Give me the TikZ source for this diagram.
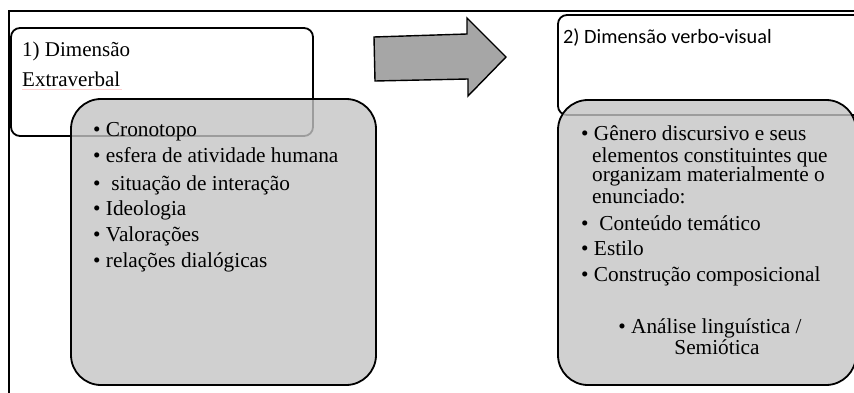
\documentclass[tikz,border=0pt]{standalone}
\usepackage{fontspec}
\setmainfont{Liberation Serif}
\newfontfamily\calib{Carlito}
\definecolor{boxgray}{RGB}{196,196,196}
\definecolor{arrowgray}{RGB}{166,166,166}
\tikzset{
  frameline/.style={line width=2pt, black},
  whitebox/.style={draw=black, line width=1.8pt, fill=white, rounded corners=9pt},
  graybox/.style={draw=black, line width=1.8pt, fill=boxgray, fill opacity=0.8, rounded corners=30pt},
  bigarrow/.style={draw=black, line width=1.4pt, fill=arrowgray, line join=miter},
  item/.style={anchor=base west, inner sep=0pt, font=\fontsize{21.3}{24}\selectfont},
  citem/.style={anchor=base, inner sep=0pt, font=\fontsize{21.3}{24}\selectfont},
  title/.style={anchor=base west, inner sep=0pt, font=\fontsize{21}{24}\selectfont},
}
\begin{document}
\begin{tikzpicture}[x=1pt, y=-1pt]
\useasboundingbox (0,0) rectangle (854,393);
% outer frame
\coordinate (ftl) at (9,11);
\coordinate (ftr) at (858,11);
\coordinate (fbl) at (9,396);
\draw[frameline] (ftr) -- (ftl) -- (fbl);
% box 1
\path[whitebox] (11,28) rectangle (313,136);
\node[title] (t1a) at (22,57) {1) Dimensão};
\node[title] (t1b) at (22,87) {Extraverbal};
\draw[pink!70, line width=0.6pt] (t1b.base west) ++(0,2.5) -- ++(100,0);
\path[graybox] (71,99) rectangle (376,385);
\node[item] (a1) at (93,137) {• Cronotopo};
\node[item] (a2) at (93,163) {• esfera de atividade humana};
\node[item] (a3) at (93,190) {•\ \ situação de interação};
\node[item] (a4) at (93,215) {• Ideologia};
\node[item] (a5) at (93,241) {• Valorações};
\node[item] (a6) at (93,267) {• relações dialógicas};
% arrow
\path[bigarrow] (374,37) -- (467,34) -- (467,18) -- (506,57) -- (468,96) -- (468,79) -- (375,81) -- cycle;
% box 2
\path[whitebox] (558,15) rectangle (870,115);
\node[anchor=base west, inner sep=0pt, font=\calib\fontsize{20.3}{24}\selectfont] (t2) at (563,44) {2) Dimensão verbo-visual};
\path[graybox] (558,100) rectangle (856,385);
\node[item] (b1) at (581,141) {• Gênero discursivo e seus};
\node[item] (b2) at (592,162) {elementos constituintes que};
\node[item] (b3) at (592,182) {organizam materialmente o};
\node[item] (b4) at (592,203) {enunciado:};
\node[item] (b5) at (581,230) {•\ \ Conteúdo temático};
\node[item] (b6) at (581,255) {• Estilo};
\node[item] (b7) at (581,281) {• Construção composicional};
\node[citem] (b8) at (710,333) {• Análise linguística /};
\node[citem] (b9) at (717,354) {Semiótica};
\end{tikzpicture}
\end{document}
